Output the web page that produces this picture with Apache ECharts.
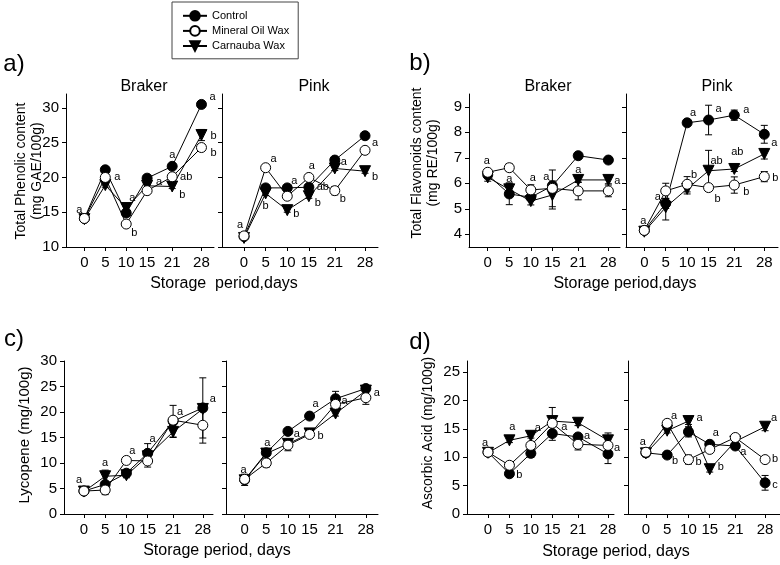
<!DOCTYPE html>
<html>
<head>
<meta charset="utf-8">
<script src="https://cdn.jsdelivr.net/npm/echarts@6/dist/echarts.min.js"></script>
<style>html,body{margin:0;padding:0;background:#fff}#c{width:780px;height:565px}</style>
</head>
<body>
<div id="c"></div>
<script>
// ---------- DATA ----------
const days = [0, 5, 10, 15, 21, 28];
const treatments = ['Control', 'Mineral Oil Wax', 'Carnauba Wax'];

const phenolTicks = [10, 15, 20, 25, 30];
const flavTicks = [4, 5, 6, 7, 8, 9];
const lycoTicks = [0, 5, 10, 15, 20, 25, 30];
const ascTicks = [0, 5, 10, 15, 20, 25];

// a) Total phenolic content
const phenolBrakerControl  = [14.1, 21.1, 14.9, 19.9, 21.6, 30.5];
const phenolBrakerMineral  = [14.1, 20.0, 13.3, 18.1, 20.1, 24.3];
const phenolBrakerCarnauba = [14.0, 18.9, 15.6, 18.8, 18.7, 26.1];
const phenolBrakerControlSd  = [0.2, 0.3, 0.3, 0.3, 0.3, 0.3];
const phenolBrakerMineralSd  = [0.2, 0.3, 0.3, 0.3, 0.3, 0.4];
const phenolBrakerCarnaubaSd = [0.2, 0.3, 0.3, 0.3, 0.3, 0.8];

const phenolPinkControl  = [11.5, 18.5, 18.5, 18.6, 22.5, 26.0];
const phenolPinkMineral  = [11.6, 21.4, 17.3, 20.0, 18.1, 23.9];
const phenolPinkCarnauba = [11.3, 17.7, 15.3, 17.3, 21.3, 20.9];
const phenolPinkControlSd  = [0.2, 0.3, 0.3, 0.3, 0.3, 0.3];
const phenolPinkMineralSd  = [0.2, 0.3, 0.3, 0.3, 0.6, 0.3];
const phenolPinkCarnaubaSd = [0.2, 0.3, 0.3, 0.3, 0.3, 0.3];

// b) Total flavonoids content
const flavBrakerControl  = [6.33, 5.58, 5.45, 5.90, 7.08, 6.91];
const flavBrakerMineral  = [6.43, 6.61, 5.74, 5.80, 5.70, 5.70];
const flavBrakerCarnauba = [6.23, 5.76, 5.30, 5.54, 6.13, 6.13];
const flavBrakerControlSd  = [0.15, 0.42, 0.10, 0.10, 0.10, 0.10];
const flavBrakerMineralSd  = [0.10, 0.15, 0.20, 0.72, 0.35, 0.23];
const flavBrakerCarnaubaSd = [0.15, 0.25, 0.15, 0.55, 0.10, 0.15];

const flavPinkControl  = [4.15, 5.21, 8.37, 8.48, 8.67, 7.92];
const flavPinkMineral  = [4.15, 5.70, 5.96, 5.83, 5.93, 6.26];
const flavPinkCarnauba = [4.10, 5.06, 5.78, 6.49, 6.56, 7.15];
const flavPinkControlSd  = [0.10, 0.20, 0.10, 0.58, 0.20, 0.35];
const flavPinkMineralSd  = [0.10, 0.30, 0.30, 0.10, 0.32, 0.20];
const flavPinkCarnaubaSd = [0.10, 0.50, 0.20, 0.80, 0.10, 0.20];

// c) Lycopene
const lycoBrakerControl  = [4.5, 5.8, 8.0, 11.9, 18.2, 20.8];
const lycoBrakerMineral  = [4.5, 4.7, 10.5, 10.4, 18.4, 17.4];
const lycoBrakerCarnauba = [4.4, 7.4, 7.6, 11.3, 16.1, 20.6];
const lycoBrakerControlSd  = [0.3, 0.5, 0.4, 1.9, 3.1, 5.9];
const lycoBrakerMineralSd  = [0.3, 0.9, 0.3, 1.2, 0.5, 3.5];
const lycoBrakerCarnaubaSd = [0.3, 1.2, 0.5, 0.8, 1.1, 0.5];

const lycoPinkControl  = [6.7, 12.0, 16.2, 19.2, 22.6, 24.6];
const lycoPinkMineral  = [6.8, 10.0, 13.5, 15.6, 21.5, 22.8];
const lycoPinkCarnauba = [6.6, 11.85, 13.75, 15.8, 19.7, 24.2];
const lycoPinkControlSd  = [1.1, 0.4, 0.4, 0.4, 1.45, 0.4];
const lycoPinkMineralSd  = [0.5, 0.8, 1.1, 0.4, 0.5, 1.3];
const lycoPinkCarnaubaSd = [0.5, 0.4, 0.5, 0.8, 0.5, 0.4];

// d) Ascorbic acid
const ascBrakerControl  = [10.9, 7.1, 10.7, 14.2, 13.6, 10.6];
const ascBrakerMineral  = [10.9, 8.6, 12.1, 16.0, 12.3, 12.1];
const ascBrakerCarnauba = [10.8, 13.0, 13.8, 16.4, 16.1, 13.0];
const ascBrakerControlSd  = [0.4, 0.4, 0.7, 1.2, 0.6, 1.7];
const ascBrakerMineralSd  = [0.3, 0.4, 0.4, 0.5, 1.0, 0.5];
const ascBrakerCarnaubaSd = [0.3, 0.4, 0.4, 2.4, 0.5, 1.3];

const ascPinkControl  = [10.8, 10.4, 14.5, 12.3, 12.0, 5.5];
const ascPinkMineral  = [10.9, 16.0, 9.6, 11.4, 13.5, 9.6];
const ascPinkCarnauba = [10.7, 14.7, 16.4, 7.9, 12.8, 15.4];
const ascPinkControlSd  = [0.5, 0.3, 0.9, 0.4, 0.4, 1.3];
const ascPinkMineralSd  = [0.4, 0.4, 0.8, 0.4, 0.3, 0.4];
const ascPinkCarnaubaSd = [0.6, 0.4, 0.6, 0.5, 0.4, 0.7];

// significance letters: [treatment index, day index, letter]
const phenolBrakerLetters = [[0,0,'a'],[1,1,'a'],[2,2,'a'],[1,2,'b'],[2,3,'a'],[0,4,'a'],[1,4,'ab'],[2,4,'b'],[0,5,'a'],[2,5,'b'],[1,5,'b']];
const phenolPinkLetters = [[0,0,'a'],[1,1,'a'],[2,1,'b'],[0,2,'a'],[2,2,'b'],[1,3,'a'],[0,3,'ab'],[2,3,'b'],[2,4,'a'],[1,4,'b'],[0,5,'a'],[2,5,'b']];
const flavBrakerLetters = [[1,0,'a'],[2,1,'a'],[1,2,'a'],[0,3,'a'],[2,4,'a'],[2,5,'a']];
const flavPinkLetters = [[0,0,'a'],[1,1,'a'],[0,2,'a'],[1,2,'b'],[0,3,'a'],[2,3,'ab'],[1,3,'b'],[0,4,'a'],[2,4,'ab'],[1,4,'b'],[0,5,'a'],[1,5,'b']];
const lycoBrakerLetters = [[0,0,'a'],[2,1,'a'],[1,2,'a'],[0,3,'a'],[1,4,'a'],[0,5,'a']];
const lycoPinkLetters = [[0,0,'a'],[0,1,'a'],[0,2,'a'],[2,3,'b'],[0,3,'a'],[1,4,'a'],[0,5,'a']];
const ascBrakerLetters = [[0,0,'a'],[2,1,'a'],[2,2,'a'],[2,3,'a'],[0,4,'a'],[1,5,'a'],[0,1,'b']];
const ascPinkLetters = [[0,0,'a'],[1,1,'a'],[2,2,'a'],[0,1,'b'],[1,2,'b'],[2,3,'b'],[0,3,'a'],[0,4,'a'],[2,5,'a'],[1,5,'b'],[0,5,'c']];

// ---------- LAYOUT (letter offsets in px, grid rectangles) ----------
const phenolBrakerLetterOffsets = [[-5,-9],[12,0],[6,-10],[8,9],[12,-4],[0,-11],[14,0],[10,8],[11,-7],[12,1],[12,5]];
const phenolPinkLetterOffsets = [[-4,-12],[8,-9],[0,13],[7,-7],[9,4],[3,-11],[14,0],[9,7],[9,-6],[8,8],[10,7],[10,6]];
const flavBrakerLetterOffsets = [[-1,-11],[0,-10],[2,-12],[-6,-9],[0,-10],[9,1]];
const flavPinkLetterOffsets = [[-1,-9],[-8,6],[6,-10],[7,-9],[10,-11],[8,-10],[9,11],[12,-5],[3,-17],[12,7],[10,9],[11,1]];
const lycoBrakerLetterOffsets = [[-5,-11],[0,-13],[6,-9],[5,-14],[7,-8],[10,-9]];
const lycoPinkLetterOffsets = [[-1,-10],[1,-10],[9,3],[11,3],[6,-12],[9,-3],[11,4]];
const ascBrakerLetterOffsets = [[-3,-9],[3,-13],[7,-8],[12,6],[9,-1],[9,3],[10,1]];
const ascPinkLetterOffsets = [[-3,-11],[7,-7],[11,-3],[8,6],[10,2],[11,-2],[6,-11],[8,6],[9,-9],[10,-1],[10,2]];

const FONT = '"Liberation Sans", Arial, Helvetica, sans-serif';

const panels = [
  {vals:[phenolBrakerControl, phenolBrakerMineral, phenolBrakerCarnauba], sd:[phenolBrakerControlSd, phenolBrakerMineralSd, phenolBrakerCarnaubaSd], letters:phenolBrakerLetters, offs:phenolBrakerLetterOffsets, grid:{left:66, top:94, width:148, height:153}, x:[-4.4, 31], y:[10, 32], ticks:phenolTicks, labels:true},
  {vals:[phenolPinkControl, phenolPinkMineral, phenolPinkCarnauba], sd:[phenolPinkControlSd, phenolPinkMineralSd, phenolPinkCarnaubaSd], letters:phenolPinkLetters, offs:phenolPinkLetterOffsets, grid:{left:222, top:94, width:156, height:153}, x:[-5.1, 31], y:[10, 32], ticks:phenolTicks, labels:false},
  {vals:[flavBrakerControl, flavBrakerMineral, flavBrakerCarnauba], sd:[flavBrakerControlSd, flavBrakerMineralSd, flavBrakerCarnaubaSd], letters:flavBrakerLetters, offs:flavBrakerLetterOffsets, grid:{left:469, top:94, width:151, height:153}, x:[-4.35, 30.7], y:[3.5, 9.5], ticks:flavTicks, labels:true},
  {vals:[flavPinkControl, flavPinkMineral, flavPinkCarnauba], sd:[flavPinkControlSd, flavPinkMineralSd, flavPinkCarnaubaSd], letters:flavPinkLetters, offs:flavPinkLetterOffsets, grid:{left:626, top:94, width:152, height:153}, x:[-4.27, 31.2], y:[3.5, 9.5], ticks:flavTicks, labels:false},
  {vals:[lycoBrakerControl, lycoBrakerMineral, lycoBrakerCarnauba], sd:[lycoBrakerControlSd, lycoBrakerMineralSd, lycoBrakerCarnaubaSd], letters:lycoBrakerLetters, offs:lycoBrakerLetterOffsets, grid:{left:64, top:361, width:149, height:153}, x:[-4.7, 30.4], y:[0, 30], ticks:lycoTicks, labels:true},
  {vals:[lycoPinkControl, lycoPinkMineral, lycoPinkCarnauba], sd:[lycoPinkControlSd, lycoPinkMineralSd, lycoPinkCarnaubaSd], letters:lycoPinkLetters, offs:lycoPinkLetterOffsets, grid:{left:226, top:361, width:152, height:153}, x:[-4.3, 30.8], y:[0, 30], ticks:lycoTicks, labels:false},
  {vals:[ascBrakerControl, ascBrakerMineral, ascBrakerCarnauba], sd:[ascBrakerControlSd, ascBrakerMineralSd, ascBrakerCarnaubaSd], letters:ascBrakerLetters, offs:ascBrakerLetterOffsets, grid:{left:467, top:361, width:147, height:153}, x:[-4.9, 29.4], y:[0, 27], ticks:ascTicks, labels:true},
  {vals:[ascPinkControl, ascPinkMineral, ascPinkCarnauba], sd:[ascPinkControlSd, ascPinkMineralSd, ascPinkCarnaubaSd], letters:ascPinkLetters, offs:ascPinkLetterOffsets, grid:{left:628, top:361, width:152, height:153}, x:[-4.2, 31.5], y:[0, 27], ticks:ascTicks, labels:false}
];

const symbolStyles = [
  {symbol:'circle', size:10, rotate:0, fill:'#000'},
  {symbol:'circle', size:10, rotate:0, fill:'#fff'},
  {symbol:'triangle', size:11, rotate:180, fill:'#000'}
];

const grids = [], xAxes = [], yAxes = [], series = [];
panels.forEach((p, pi) => {
  grids.push(Object.assign({containLabel:false}, p.grid));
  xAxes.push({
    type:'value', gridIndex:pi, min:p.x[0], max:p.x[1],
    axisLine:{show:true, onZero:false, lineStyle:{color:'#000', width:1}},
    axisTick:{show:true, inside:false, length:4, customValues:days, lineStyle:{color:'#000'}},
    axisLabel:{show:true, customValues:days, margin:8, fontSize:15, color:'#000', fontFamily:FONT},
    splitLine:{show:false}
  });
  yAxes.push({
    type:'value', gridIndex:pi, min:p.y[0], max:p.y[1],
    axisLine:{show:true, onZero:false, lineStyle:{color:'#000', width:1}},
    axisTick:{show:true, inside:false, length:4, customValues:p.ticks, lineStyle:{color:'#000'}},
    axisLabel:{show:p.labels, customValues:p.ticks, margin:7, fontSize:15, color:'#000', fontFamily:FONT},
    splitLine:{show:false}
  });
  // error bars
  p.vals.forEach((vals, ti) => {
    series.push({
      type:'custom', xAxisIndex:pi, yAxisIndex:pi, silent:true, z:1,
      encode:{x:0, y:1},
      data: days.map((d, i) => [d, vals[i], p.sd[ti][i]]),
      renderItem: function (params, api) {
        const x = api.value(0), y = api.value(1), e = api.value(2);
        const c = api.coord([x, y]);
        const hi = api.coord([x, y + e]);
        const lo = api.coord([x, y - e]);
        const w = 3.5, st = {stroke:'#000', lineWidth:1};
        return {type:'group', children:[
          {type:'line', shape:{x1:c[0], y1:hi[1], x2:c[0], y2:lo[1]}, style:st},
          {type:'line', shape:{x1:c[0]-w, y1:hi[1], x2:c[0]+w, y2:hi[1]}, style:st},
          {type:'line', shape:{x1:c[0]-w, y1:lo[1], x2:c[0]+w, y2:lo[1]}, style:st}
        ]};
      }
    });
  });
  // lines with markers
  p.vals.forEach((vals, ti) => {
    const s = symbolStyles[ti];
    series.push({
      type:'line', name:treatments[ti], xAxisIndex:pi, yAxisIndex:pi, z:2 + (ti === 1 ? 1 : 0),
      data: days.map((d, i) => [d, vals[i]]),
      symbol:s.symbol, symbolSize:s.size, symbolRotate:s.rotate, showAllSymbol:true,
      itemStyle:{color:s.fill, borderColor:'#000', borderWidth:1},
      lineStyle:{color:'#000', width:1},
      emphasis:{disabled:true}, silent:true
    });
  });
  // significance letters
  series.push({
    type:'scatter', xAxisIndex:pi, yAxisIndex:pi, z:5, silent:true,
    symbolSize:0.1, itemStyle:{color:'#000', opacity:1},
    data: p.letters.map((L, k) => ({
      value:[days[L[1]], p.vals[L[0]][L[1]], L[2]],
      label:{offset:p.offs[k]}
    })),
    label:{show:true, position:'inside', formatter:(q) => q.value[2], fontSize:11, color:'#000',
           textBorderWidth:0, textBorderColor:'transparent', opacity:1, fontFamily:FONT}
  });
});

function txt(text, x, y, size, opts) {
  return Object.assign({
    type:'text', x:x, y:y, silent:true,
    style:{text:text, fill:'#000', font: size + 'px ' + FONT, align:'center', verticalAlign:'middle', lineHeight: size + 2}
  }, opts || {});
}

const graphics = [
  txt('a)', 14, 64, 24), txt('b)', 420, 63, 24), txt('c)', 14, 339, 24), txt('d)', 420, 342, 24),
  txt('Braker', 144, 87, 16), txt('Pink', 314, 87, 16), txt('Braker', 548, 87, 16), txt('Pink', 717, 87, 16),
  txt('Total Phenolic content\n(mg GAE/100g)', 29, 171, 14, {rotation:Math.PI/2}),
  txt('Total Flavonoids content\n(mg RE/100g)', 425, 163, 14, {rotation:Math.PI/2}),
  txt('Lycopene (mg/100g)', 25, 435, 15, {rotation:Math.PI/2}),
  txt('Ascorbic Acid (mg/100g)', 428, 433, 14, {rotation:Math.PI/2}),
  txt('Storage  period,days', 224, 284, 16),
  txt('Storage period,days', 625, 284, 16),
  txt('Storage period, days', 217, 551, 16),
  txt('Storage period, days', 616, 552, 16)
];

const chart = echarts.init(document.getElementById('c'), null, {renderer:'canvas'});
chart.setOption({
  animation:false,
  backgroundColor:'#fff',
  textStyle:{fontFamily:FONT},
  legend:{
    data:treatments, orient:'vertical', left:172, top:2,
    itemWidth:24, itemHeight:12, itemGap:3.5, padding:[8, 9, 7, 10],
    borderColor:'#444', borderWidth:1, selectedMode:false,
    textStyle:{fontSize:11, color:'#000', fontFamily:FONT}
  },
  grid:grids, xAxis:xAxes, yAxis:yAxes, series:series, graphic:graphics
});
</script>
</body>
</html>
